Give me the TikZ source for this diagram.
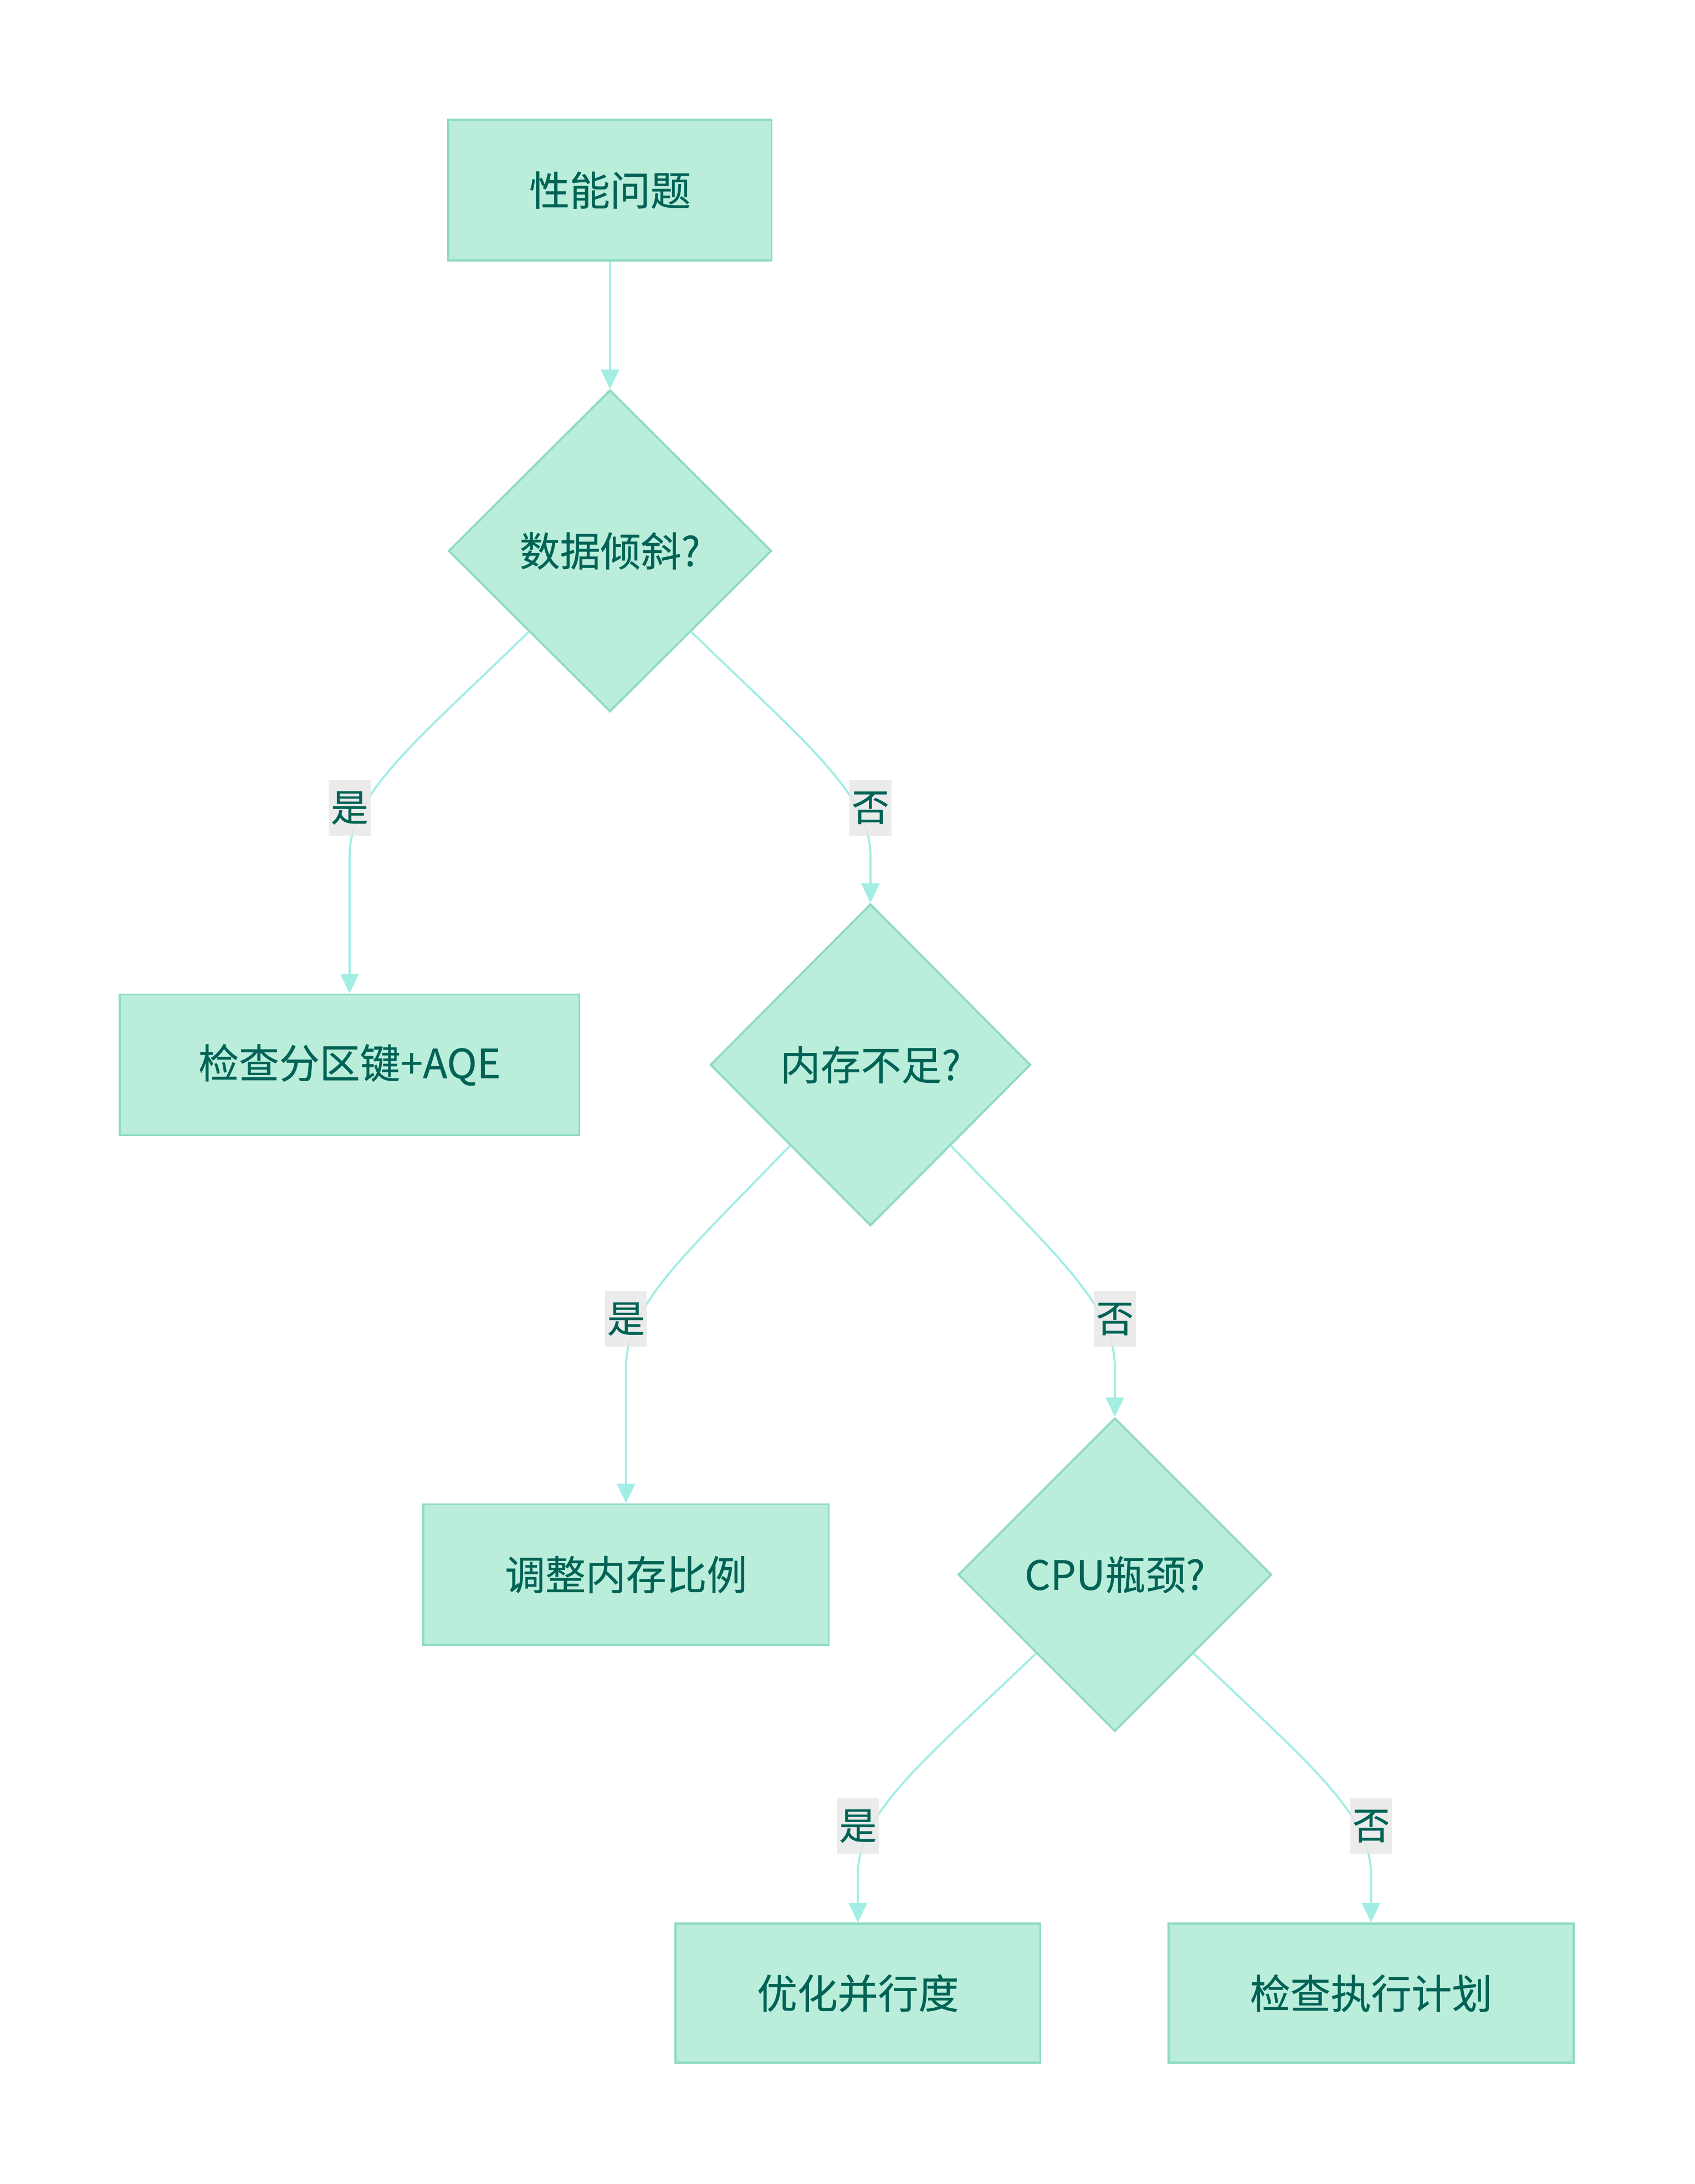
\documentclass[tikz,border=0pt]{standalone}
\usepackage{fontspec}
\setmainfont{Noto Sans CJK SC}[FakeBold=0.4]
\usetikzlibrary{shapes.geometric,arrows.meta}
\definecolor{nfill}{HTML}{BBEDDB}
\definecolor{nborder}{HTML}{8FDAC5}
\definecolor{ntext}{HTML}{006355}
\definecolor{edgec}{HTML}{A2EEE5}
\definecolor{lblbg}{HTML}{E8E8E8}
\begin{document}
\begin{tikzpicture}[x=1pt,y=-1pt,
  box/.style={rectangle, draw=nborder, fill=nfill, line width=1.5pt, text=ntext, font=\fontsize{29}{35}\selectfont, inner sep=0},
  dec/.style={diamond, draw=nborder, fill=nfill, line width=1.5pt, text=ntext, font=\fontsize{29}{35}\selectfont, inner sep=0},
  lbl/.style={fill=lblbg, fill opacity=0.85, text opacity=1, text=ntext, font=\fontsize{27}{32}\selectfont, minimum width=30pt, minimum height=40pt, inner sep=0},
  edge/.style={draw=edgec, line width=1.5pt, -{Triangle[length=14pt,width=13pt]}}
]
\useasboundingbox (0,0) rectangle (1217,1568);
\fill[white] (0,0) rectangle (1217,1568);

\node[box, minimum width=232pt, minimum height=101pt] (n1) at (438,136.5) {性能问题};
\node[dec, minimum width=232pt, minimum height=231pt] (d1) at (438,395.5) {数据倾斜?};
\node[box, minimum width=330pt, minimum height=101pt] (b1) at (251,764.5) {检查分区键+AQE};
\node[dec, minimum width=230pt, minimum height=231pt] (d2) at (625,764.5) {内存不足?};
\node[box, minimum width=291pt, minimum height=101pt] (b2) at (449.5,1130.5) {调整内存比例};
\node[dec, minimum width=225pt, minimum height=225pt] (d3) at (800.5,1130.5) {CPU瓶颈?};
\node[box, minimum width=262pt, minimum height=100pt] (b3) at (616,1431) {优化并行度};
\node[box, minimum width=291pt, minimum height=100pt] (b4) at (984.5,1431) {检查执行计划};

\draw[edge] (n1) -- (d1);
\draw[edge] (d1.south west) .. controls (296,535) and (251,570) .. (251,615) -- (b1);
\draw[edge] (d1.south east) .. controls (580,535) and (625,570) .. (625,615) -- (d2);
\draw[edge] (d2.south west) .. controls (490.8,902) and (449.5,937) .. (449.5,982) -- (b2);
\draw[edge] (d2.south east) .. controls (759.2,902) and (800.5,937) .. (800.5,982) -- (d3);
\draw[edge] (d3.south west) .. controls (660.8,1266.5) and (616,1301.5) .. (616,1346.5) -- (b3);
\draw[edge] (d3.south east) .. controls (939.7,1266.5) and (984.5,1301.5) .. (984.5,1346.5) -- (b4);

\node[lbl] (l1) at (251,580) {是};
\node[lbl] (l2) at (625,580) {否};
\node[lbl] (l3) at (449.5,947) {是};
\node[lbl] (l4) at (800.5,947) {否};
\node[lbl] (l5) at (616,1311) {是};
\node[lbl] (l6) at (984.5,1311) {否};
\end{tikzpicture}
\end{document}
